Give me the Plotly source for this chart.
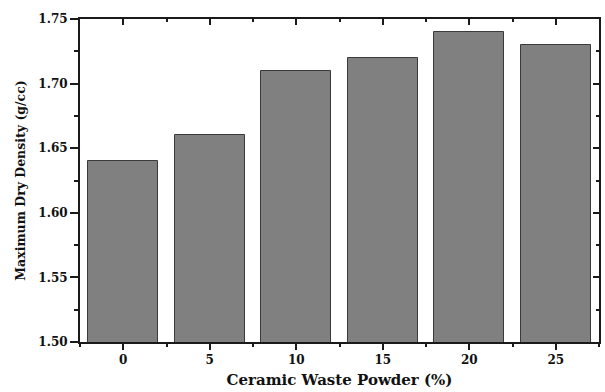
import plotly.graph_objects as go

# Data
cwp_percent = [0, 5, 10, 15, 20, 25]
max_dry_density = [1.64, 1.66, 1.71, 1.72, 1.74, 1.73]
x_tick_labels = ["0", "5", "10", "15", "20", "25"]
y_tick_values = [1.50, 1.55, 1.60, 1.65, 1.70, 1.75]
y_tick_labels = ["1.50", "1.55", "1.60", "1.65", "1.70", "1.75"]

FONT = "DejaVu Serif"
AX = "#1a1a1a"

fig = go.Figure()
fig.add_trace(go.Bar(
    x=cwp_percent, y=max_dry_density, width=4.05,
    marker=dict(color="#808080", line=dict(color="#3a3a3a", width=1)),
    showlegend=False,
))
# invisible trace to anchor the mirrored top/right axes
fig.add_trace(go.Scatter(x=[None], y=[None], xaxis="x2", yaxis="y2",
                         showlegend=False, hoverinfo="skip"))

xrange = [-2.5, 27.5]
yrange = [1.50, 1.75]

fig.update_layout(
    width=605, height=392,
    margin=dict(l=80, r=6, t=19, b=50),
    paper_bgcolor="white", plot_bgcolor="white",
    font=dict(family=FONT, color="#111111"),
    bargap=0,
    xaxis=dict(
        range=xrange, tickmode="array", tickvals=cwp_percent,
        ticktext=[f"<b>{t}</b>" for t in x_tick_labels],
        ticks="outside", ticklen=6, tickwidth=1.5, tickcolor=AX,
        showline=True, linecolor=AX, linewidth=2, showgrid=False, zeroline=False,
        tickfont=dict(family=FONT, size=12, color="#111111"),
        minor=dict(tickmode="linear", tick0=2.5, dtick=5, ticks="outside",
                   ticklen=3, tickwidth=1.5, tickcolor=AX, showgrid=False),
        title=dict(text="<b>Ceramic Waste Powder (%)</b>", standoff=8,
                   font=dict(family=FONT, size=15, color="#111111")),
        automargin=False,
    ),
    yaxis=dict(
        range=yrange, tickmode="array", tickvals=y_tick_values,
        ticktext=[f"<b>{t}</b>" for t in y_tick_labels],
        ticks="outside", ticklen=8, tickwidth=1.5, tickcolor=AX,
        showline=True, linecolor=AX, linewidth=2, showgrid=False, zeroline=False,
        tickfont=dict(family=FONT, size=12, color="#111111"),
        minor=dict(tickmode="linear", tick0=1.525, dtick=0.05, ticks="outside",
                   ticklen=4, tickwidth=1.5, tickcolor=AX, showgrid=False),
        title=dict(text="<b>Maximum Dry Density (g/cc)</b>", standoff=10,
                   font=dict(family=FONT, size=12.5, color="#111111")),
        automargin=False,
    ),
    xaxis2=dict(
        overlaying="x", side="top", anchor="y2", range=xrange,
        tickmode="array", tickvals=cwp_percent, showticklabels=False,
        ticks="inside", ticklen=6, tickwidth=1.5, tickcolor=AX,
        showline=True, linecolor=AX, linewidth=2, showgrid=False, zeroline=False,
        minor=dict(tickmode="linear", tick0=2.5, dtick=5, ticks="inside",
                   ticklen=3, tickwidth=1.5, tickcolor=AX, showgrid=False),
    ),
    yaxis2=dict(
        overlaying="y", side="right", anchor="x2", range=yrange,
        tickmode="array", tickvals=y_tick_values, showticklabels=False,
        ticks="inside", ticklen=6, tickwidth=1.5, tickcolor=AX,
        showline=True, linecolor=AX, linewidth=2, showgrid=False, zeroline=False,
        minor=dict(tickmode="linear", tick0=1.525, dtick=0.05, ticks="inside",
                   ticklen=3, tickwidth=1.5, tickcolor=AX, showgrid=False),
    ),
)

fig.write_html("out.html")
